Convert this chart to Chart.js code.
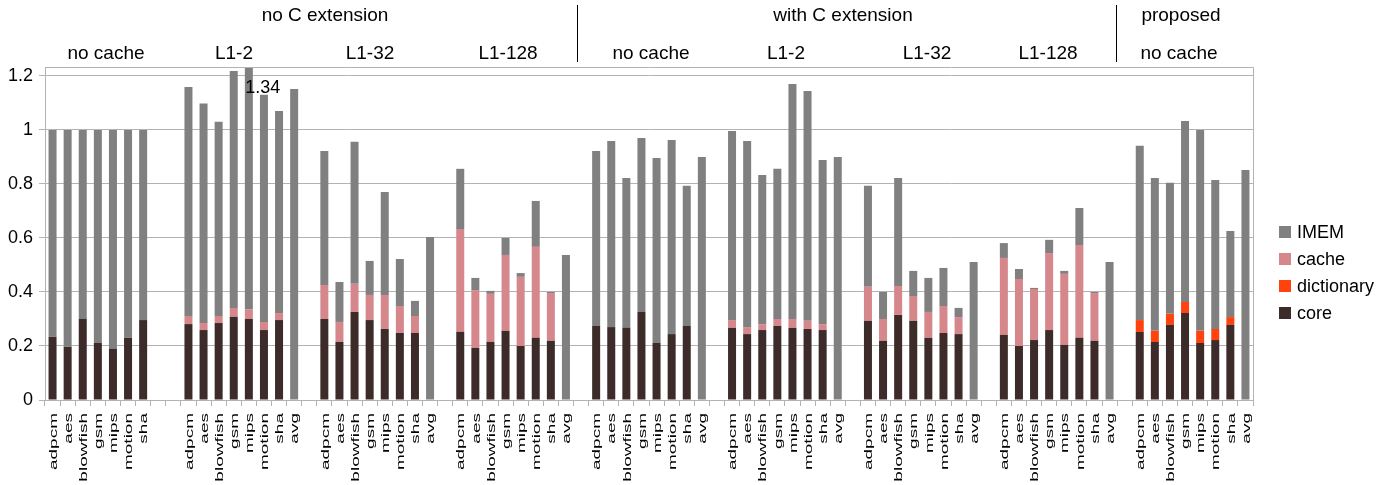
<!DOCTYPE html>
<html lang="en">
<head>
    <meta charset="UTF-8">
    <title>Energy breakdown</title>
    <script src="https://cdn.jsdelivr.net/npm/chart.js"></script>
    <style>
        body { margin: 0; background: #fff; }
        .chart-box { width: 1398px; height: 485px; position: relative; }
    </style>
</head>
<body>
    <div class="chart-box">
        <canvas id="chart"></canvas>
    </div>

    <script>
        // categories
        const benchmarks = ['adpcm', 'aes', 'blowfish', 'gsm', 'mips', 'motion', 'sha', 'avg'];
        const configs = ['no cache', 'L1-2', 'L1-32', 'L1-128', 'no cache', 'L1-2', 'L1-32', 'L1-128', 'no cache'];
        const variants = ['no C extension', 'with C extension', 'proposed'];

        // stacked segment values, one row per config (8 benchmarks each)
        const core = [
            [0.234, 0.197, 0.300, 0.211, 0.189, 0.231, 0.296, null],
            [0.281, 0.259, 0.285, 0.308, 0.300, 0.259, 0.296, null],
            [0.300, 0.215, 0.326, 0.296, 0.263, 0.248, 0.248, null],
            [0.252, 0.193, 0.215, 0.256, 0.200, 0.230, 0.219, null],
            [0.274, 0.270, 0.267, 0.326, 0.211, 0.244, 0.274, null],
            [0.267, 0.244, 0.259, 0.274, 0.267, 0.263, 0.259, null],
            [0.293, 0.219, 0.315, 0.293, 0.230, 0.248, 0.244, null],
            [0.241, 0.200, 0.222, 0.259, 0.204, 0.230, 0.219, null],
            [0.252, 0.215, 0.278, 0.322, 0.211, 0.222, 0.278, null]
        ];
        const cache = [
            [null, null, null, null, null, null, null, null],
            [0.030, 0.026, 0.026, 0.033, 0.035, 0.030, 0.026, null],
            [0.126, 0.074, 0.104, 0.093, 0.126, 0.100, 0.063, null],
            [0.381, 0.214, 0.178, 0.281, 0.256, 0.337, 0.177, null],
            [null, null, null, null, null, null, null, null],
            [0.029, 0.026, 0.022, 0.026, 0.033, 0.030, 0.022, null],
            [0.126, 0.081, 0.107, 0.092, 0.096, 0.100, 0.063, null],
            [0.285, 0.248, 0.189, 0.285, 0.263, 0.344, 0.177, null],
            [null, null, null, null, null, null, null, null]
        ];
        const dictionary = [
            [null, null, null, null, null, null, null, null],
            [null, null, null, null, null, null, null, null],
            [null, null, null, null, null, null, null, null],
            [null, null, null, null, null, null, null, null],
            [null, null, null, null, null, null, null, null],
            [null, null, null, null, null, null, null, null],
            [null, null, null, null, null, null, null, null],
            [null, null, null, null, null, null, null, null],
            [0.044, 0.041, 0.041, 0.041, 0.045, 0.041, 0.029, null]
        ];
        const imem = [
            [0.766, 0.803, 0.700, 0.789, 0.811, 0.769, 0.704, null],
            [0.848, 0.813, 0.719, 0.877, 1.005, 0.841, 0.748, 1.152],
            [0.496, 0.148, 0.526, 0.126, 0.381, 0.174, 0.056, 0.604],
            [0.223, 0.045, 0.011, 0.063, 0.014, 0.170, 0.004, 0.537],
            [0.648, 0.689, 0.555, 0.644, 0.685, 0.719, 0.519, 0.900],
            [0.700, 0.689, 0.552, 0.556, 0.870, 0.851, 0.608, 0.900],
            [0.374, 0.100, 0.400, 0.093, 0.126, 0.141, 0.034, 0.511],
            [0.055, 0.037, 0.004, 0.049, 0.011, 0.137, 0.004, 0.511],
            [0.645, 0.566, 0.485, 0.670, 0.744, 0.552, 0.319, 0.852]
        ];
        const yTicks = [0, 0.2, 0.4, 0.6, 0.8, 1, 1.2];
        const yMax = 1.233;

        // header text anchors (px)
        const variantX = [325, 843, 1181];
        const configX = [106, 234, 370, 508, 651, 786, 927, 1048, 1179];
        const separatorX = [577, 1116];

        const FONT = '"Liberation Sans", Arial, sans-serif';

        // flatten groups, one empty slot between groups
        const labels = [];
        const flat = { core: [], cache: [], dictionary: [], imem: [] };
        configs.forEach((c, g) => {
            benchmarks.forEach((b, i) => {
                labels.push(imem[g][i] == null ? '' : b);
                flat.core.push(core[g][i]);
                flat.cache.push(cache[g][i]);
                flat.dictionary.push(dictionary[g][i]);
                flat.imem.push(imem[g][i]);
            });
            if (g < configs.length - 1) {
                labels.push('');
                Object.keys(flat).forEach(k => flat[k].push(null));
            }
        });

        const decorations = {
            id: 'decorations',
            afterDatasetsDraw(chart) {
                const ctx = chart.ctx;
                const area = chart.chartArea;
                const x = chart.scales.x;

                // frame (top and right)
                ctx.save();
                ctx.strokeStyle = '#b3b3b3';
                ctx.lineWidth = 1;
                ctx.beginPath();
                ctx.moveTo(area.left, area.top + 0.5);
                ctx.lineTo(area.right + 0.5, area.top + 0.5);
                ctx.lineTo(area.right + 0.5, area.bottom);
                ctx.stroke();

                // values clipped by the axis
                ctx.fillStyle = '#000';
                ctx.font = '18px ' + FONT;
                ctx.textAlign = 'center';
                ctx.textBaseline = 'middle';
                const metas = chart.data.datasets.map((d, i) => chart.getDatasetMeta(i));
                labels.forEach((l, i) => {
                    const total = chart.data.datasets.reduce((s, d) => s + (d.data[i] || 0), 0);
                    if (total > yMax) {
                        const bar = metas[3].data[i];
                        ctx.fillText(total.toFixed(2), bar.x + 14, area.top + 21);
                    }
                });

                // x labels, squeezed like the original
                ctx.font = '19px ' + FONT;
                ctx.textAlign = 'right';
                labels.forEach((l, i) => {
                    if (!l) return;
                    ctx.save();
                    ctx.translate(x.getPixelForTick(i) + 1, area.bottom + 13);
                    ctx.rotate(-Math.PI / 2);
                    ctx.scale(1, 0.62);
                    ctx.fillText(l, 0, 0);
                    ctx.restore();
                });

                // headers
                ctx.font = '19px ' + FONT;
                ctx.textAlign = 'center';
                variants.forEach((v, i) => ctx.fillText(v, variantX[i], 16));
                configs.forEach((c, i) => ctx.fillText(c, configX[i], 54));
                ctx.strokeStyle = '#000';
                separatorX.forEach(sx => {
                    ctx.beginPath();
                    ctx.moveTo(sx + 0.5, 5);
                    ctx.lineTo(sx + 0.5, 62);
                    ctx.stroke();
                });

                // legend (top of stack first)
                ctx.font = '18px ' + FONT;
                ctx.textAlign = 'left';
                chart.data.datasets.slice().reverse().forEach((d, i) => {
                    const cy = 232 + i * 27;
                    ctx.fillStyle = d.backgroundColor;
                    ctx.fillRect(1279, cy - 6, 12, 12);
                    ctx.fillStyle = '#000';
                    ctx.fillText(d.label, 1297, cy + 1);
                });
                ctx.restore();
            }
        };

        new Chart(document.getElementById('chart'), {
            type: 'bar',
            data: {
                labels: labels,
                datasets: [
                    { label: 'core', data: flat.core, backgroundColor: '#3c2b28' },
                    { label: 'dictionary', data: flat.dictionary, backgroundColor: '#ff420e' },
                    { label: 'cache', data: flat.cache, backgroundColor: '#d5878b' },
                    { label: 'IMEM', data: flat.imem, backgroundColor: '#808080' }
                ]
            },
            options: {
                responsive: true,
                maintainAspectRatio: false,
                animation: false,
                layout: { padding: { top: 67, right: 145, left: 0, bottom: 0 } },
                datasets: { bar: { barPercentage: 0.53, categoryPercentage: 1.0 } },
                plugins: {
                    legend: { display: false },
                    tooltip: { enabled: false }
                },
                scales: {
                    x: {
                        stacked: true,
                        afterFit: s => { s.height = 85; },
                        ticks: { display: false, autoSkip: false },
                        grid: { drawOnChartArea: false, drawTicks: true, tickLength: 6, color: '#b3b3b3' },
                        border: { color: '#b3b3b3' }
                    },
                    y: {
                        stacked: true,
                        min: 0,
                        max: yMax,
                        afterFit: s => { s.width = 45; },
                        afterBuildTicks: s => { s.ticks = yTicks.map(v => ({ value: v })); },
                        ticks: {
                            color: '#000',
                            padding: 6,
                            font: { family: FONT, size: 18 },
                            callback: v => String(Number(v.toFixed(1)))
                        },
                        grid: { color: '#b3b3b3', tickLength: 6 },
                        border: { color: '#b3b3b3' }
                    }
                }
            },
            plugins: [decorations]
        });
    </script>
</body>
</html>
